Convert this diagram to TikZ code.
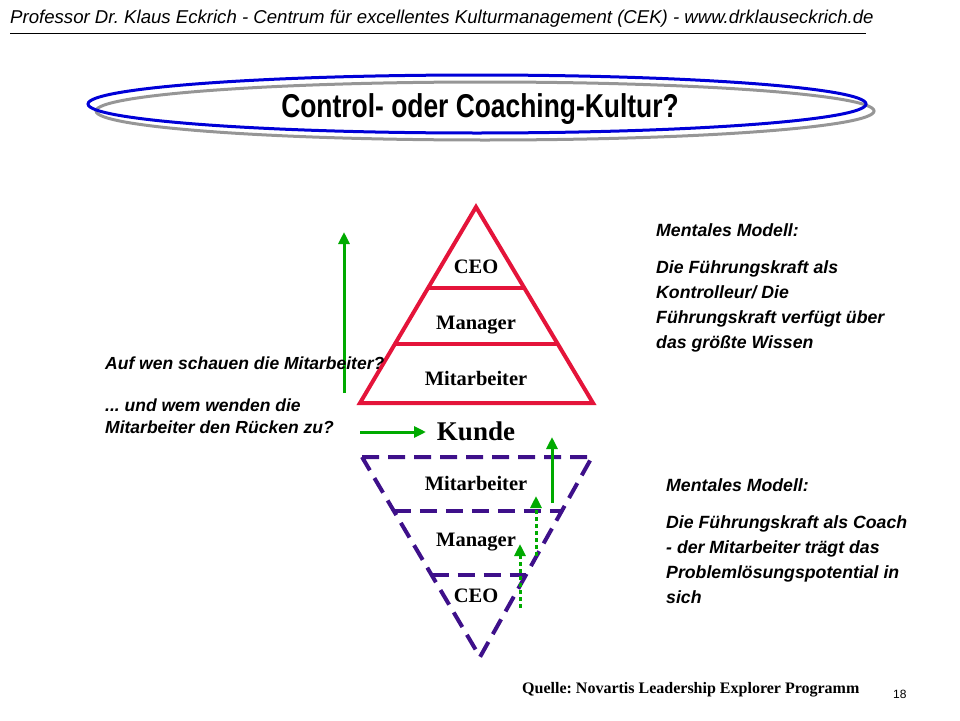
\documentclass[tikz,border=0pt]{standalone}
\usepackage{fontspec}
\setmainfont{Liberation Serif}
\newfontfamily\narrowsans[FakeStretch=0.80]{Liberation Sans}
\newfontfamily\plainsans{Liberation Sans}
\usepackage{xcolor}
\usepackage{tikz}
\usetikzlibrary{arrows.meta,calc}
\frenchspacing
\definecolor{pyrred}{RGB}{228,20,58}
\definecolor{pyrpurple}{RGB}{62,16,138}
\definecolor{arrowgreen}{RGB}{0,170,0}
\definecolor{ringblue}{RGB}{0,0,215}
\definecolor{ringgray}{RGB}{150,150,150}
\tikzstyle{header} = [anchor=base west, inner sep=0pt, font=\plainsans\itshape\fontsize{18.6}{20}\selectfont]
\tikzstyle{title} = [anchor=base, inner sep=0pt, font=\narrowsans\bfseries\fontsize{33}{36}\selectfont]
\tikzstyle{level} = [anchor=base, inner sep=0pt, font=\bfseries\fontsize{20.5}{22}\selectfont]
\tikzstyle{customer} = [anchor=base, inner sep=0pt, font=\bfseries\fontsize{27}{30}\selectfont]
\tikzstyle{question} = [anchor=base west, inner sep=0pt, align=left, font=\plainsans\bfseries\itshape\fontsize{17.5}{21.5}\selectfont]
\tikzstyle{model} = [anchor=base west, inner sep=0pt, align=left, font=\plainsans\bfseries\itshape\fontsize{17.7}{25}\selectfont]
\tikzstyle{source} = [anchor=base west, inner sep=0pt, font=\bfseries\fontsize{16}{18}\selectfont]
\tikzstyle{pyramid} = [line width=4pt, pyrred, line join=miter]
\tikzstyle{funnel} = [line width=4pt, pyrpurple, dash pattern=on 17pt off 9pt]
\tikzstyle{arrow} = [line width=3pt, arrowgreen, -{Triangle[length=12pt,width=11pt]}]
\tikzstyle{dotarrow} = [arrow, dash pattern=on 4pt off 3pt]

\begin{document}
\begin{tikzpicture}[x=1pt, y=-1pt]

	\useasboundingbox (0,0) rectangle (960,720);

	\node (head) [header] at (10,23) {Professor Dr. Klaus Eckrich - Centrum für excellentes Kulturmanagement (CEK) - www.drklauseckrich.de};
	\coordinate (ruleA) at (10,33);
	\coordinate (ruleB) at (866,33);
	\draw [line width=1pt] (ruleA) -- (ruleB);

	\draw [line width=3pt, ringgray] (485,111) ellipse [x radius=389, y radius=29];
	\draw [line width=3pt, ringblue] (477,104) ellipse [x radius=389, y radius=29];
	\node (title) [title] at (480,117) {Control- oder Coaching-Kultur?};

	\coordinate (top) at (476,207);
	\coordinate (baseL) at (360,403);
	\coordinate (baseR) at (593,403);
	\draw [pyramid] (top) -- (baseL) -- (baseR) -- cycle;
	\draw [pyramid] ($(top)!0.413!(baseL)$) -- ($(top)!0.413!(baseR)$);
	\draw [pyramid] ($(top)!0.699!(baseL)$) -- ($(top)!0.699!(baseR)$);
	\node (ceoA) [level] at (476,273) {CEO};
	\node (manA) [level] at (476,329) {Manager};
	\node (mitA) [level] at (476,385) {Mitarbeiter};

	\node (kunde) [customer] at (476,440) {Kunde};

	\coordinate (topL) at (362,457);
	\coordinate (topR) at (592,457);
	\coordinate (tip) at (480,657);
	\draw [funnel] (topL) -- (topR) -- (tip) -- cycle;
	\draw [funnel] ($(topL)!0.27!(tip)$) -- ($(topR)!0.27!(tip)$);
	\draw [funnel] ($(topL)!0.59!(tip)$) -- ($(topR)!0.59!(tip)$);
	\node (mitB) [level] at (476,490) {Mitarbeiter};
	\node (manB) [level] at (476,546) {Manager};
	\node (ceoB) [level] at (476,602) {CEO};

	\coordinate (lookfoot) at (344,393);
	\coordinate (lookhead) at (344,232);
	\coordinate (backfoot) at (360,432);
	\coordinate (backhead) at (426,432);
	\coordinate (mitfoot) at (552,503);
	\coordinate (mithead) at (552,437);
	\coordinate (manfoot) at (536,556);
	\coordinate (manhead) at (536,496);
	\coordinate (ceofoot) at (520,608);
	\coordinate (ceohead) at (520,544);

	\draw [arrow] (lookfoot) -- (lookhead){};
	\draw [arrow] (backfoot) -- (backhead){};
	\draw [arrow] (mitfoot) -- (mithead){};
	\draw [dotarrow] (manfoot) -- (manhead){};
	\draw [dotarrow] (ceofoot) -- (ceohead){};

	\node (ask) [question] at (105,369) {Auf wen schauen die Mitarbeiter?};
	\node (turn) [question] at (105,433) {... und wem wenden die\\Mitarbeiter den Rücken zu?};

	\node (modelA) [model] at (656,236) {Mentales Modell:};
	\node (controlA) [model] at (656,348) {Die Führungskraft als\\Kontrolleur/ Die\\Führungskraft verfügt über\\das größte Wissen};
	\node (modelB) [model] at (666,491) {Mentales Modell:};
	\node (coachB) [model] at (666,603) {Die Führungskraft als Coach\\- der Mitarbeiter trägt das\\Problemlösungspotential in\\sich};

	\node (quelle) [source] at (522,693) {Quelle: Novartis Leadership Explorer Programm};
	\node (page) [anchor=base west, inner sep=0pt, font=\plainsans\fontsize{12}{14}\selectfont] at (893,698) {18};

\end{tikzpicture}
\end{document}
